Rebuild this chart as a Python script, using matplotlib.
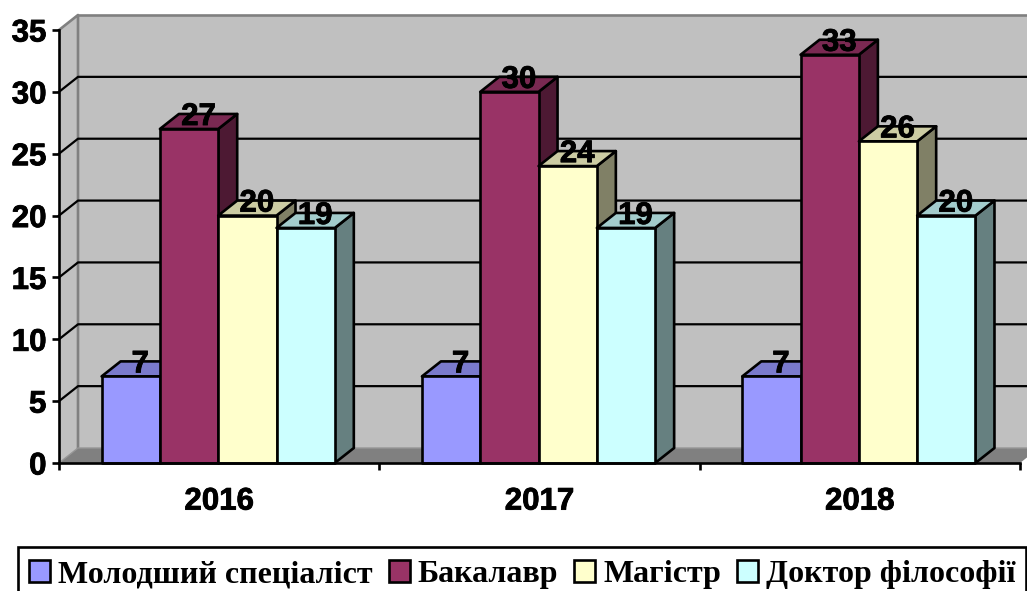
import matplotlib
matplotlib.use("Agg")
import matplotlib.pyplot as plt
import matplotlib.patheffects as pe
from matplotlib.patches import Polygon, Patch, Rectangle

years = ["2016", "2017", "2018"]
names = ["Молодший спеціаліст", "Бакалавр", "Магістр", "Доктор філософії"]
junior = [7, 7, 7]
bachelor = [27, 30, 33]
master = [20, 24, 26]
phd = [19, 19, 20]
series = [junior, bachelor, master, phd]

front_colors = ["#9999FF", "#993366", "#FFFFCC", "#CCFFFF"]
top_colors = ["#7A7ACC", "#7A2952", "#CCCCA3", "#A3CCCC"]
side_colors = ["#4D4D80", "#4D1933", "#808066", "#668080"]

W, H = 1027, 591
fig = plt.figure(figsize=(W / 100, H / 100), dpi=100)
plt.rcParams["font.family"] = ["Liberation Sans"]

# axes box = the front plane of the fake 3d chart
left, right, top, bottom = 59, 1020, 30, 463
ax = fig.add_axes([left / W, 1 - bottom / H, (right - left) / W, (bottom - top) / H])
ax.set_xlim(0, len(years))
ax.set_ylim(0, 35)
ax.patch.set_visible(False)

# depth of the box in data units
dx = 19 / ((right - left) / len(years))
dy = 15 / ((bottom - top) / 35)
lw = 1.9
grid_lw = 1.6
xmax = len(years)
ymax = 35
bold = [pe.withStroke(linewidth=0.6, foreground="black")]


def poly(pts, face, edge="none", z=1, width=lw):
    ax.add_patch(Polygon(pts, closed=True, facecolor=face, edgecolor=edge,
                         linewidth=width, zorder=z, clip_on=False, joinstyle="round"))


# walls and floor
poly([(dx, dy), (xmax + dx, dy), (xmax + dx, ymax + dy), (dx, ymax + dy)], "#C0C0C0", z=1)
poly([(0, 0), (dx, dy), (dx, ymax + dy), (0, ymax)], "#C0C0C0", z=1)
poly([(0, 0), (xmax, 0), (xmax + dx, dy), (dx, dy)], "#808080", z=1.1)

ax.plot([0, dx, dx], [ymax, ymax + dy, 0 + dy], color="#808080", lw=lw, zorder=1.3, clip_on=False)
ax.plot([dx, xmax + dx], [ymax + dy, ymax + dy], color="#808080", lw=lw, zorder=1.3, clip_on=False)
ax.plot([0, dx, xmax + dx], [0, dy, dy], color="#969696", lw=1.0, zorder=1.3, clip_on=False)

# grid lines run over the side wall and the back wall
for v in range(5, 35, 5):
    ax.plot([0, dx, xmax + dx], [v, v + dy, v + dy], color="black", lw=grid_lw, zorder=1.4, clip_on=False)

# bars
bar_w = 0.182
gap = (1 - bar_w * len(series)) / 2 - 0.003
for i in range(len(years)):
    for j, vals in enumerate(series):
        x0 = i + gap + j * bar_w
        x1 = x0 + bar_w
        v = vals[i]
        poly([(x1, 0), (x1 + dx, dy), (x1 + dx, v + dy), (x1, v)], side_colors[j], "black", z=2)
        poly([(x0, v), (x1, v), (x1 + dx, v + dy), (x0 + dx, v + dy)], top_colors[j], "black", z=2)
        poly([(x0, 0), (x1, 0), (x1, v), (x0, v)], front_colors[j], "black", z=2)

# labels go on top of everything
for i in range(len(years)):
    for j, vals in enumerate(series):
        xc = i + gap + (j + 0.5) * bar_w + dx / 2
        ax.text(xc, vals[i] + 0.32, str(vals[i]), ha="center", va="baseline",
                fontsize=22.5, fontweight="bold", color="black", zorder=5, clip_on=False,
                path_effects=bold)

for s in ["top", "right"]:
    ax.spines[s].set_visible(False)
for s in ["left", "bottom"]:
    ax.spines[s].set_linewidth(lw)
    ax.spines[s].set_zorder(3)

ax.set_yticks(range(0, 36, 5))
ax.tick_params(axis="y", length=5, width=lw, pad=4, labelsize=22.5)
ax.set_xticks(range(len(years) + 1))
ax.set_xticklabels([])
ax.tick_params(axis="x", which="major", length=5, width=lw)
ax.set_xticks([i + 0.5 for i in range(len(years))], minor=True)
ax.set_xticklabels(years, minor=True)
ax.tick_params(axis="x", which="minor", length=0, pad=17, labelsize=22.5)
for t in ax.get_yticklabels() + ax.get_xticklabels(minor=True):
    t.set_fontweight("bold")
    t.set_path_effects(bold)

# legend frame runs off the bottom of the picture, so it is drawn apart from the legend
fig.add_artist(Rectangle((18 / W, -2 / H), 1008 / W, 46 / H, transform=fig.transFigure,
                         facecolor="white", edgecolor="black", linewidth=lw, zorder=4))
handles = [Patch(facecolor=c, edgecolor="black", linewidth=lw) for c in front_colors]
leg = fig.legend(handles, names, ncol=4, loc="lower left",
                 bbox_to_anchor=(29 / W, 2 / H), bbox_transform=fig.transFigure,
                 borderaxespad=0, frameon=False,
                 prop={"family": "Liberation Serif", "weight": "bold", "size": 23},
                 handlelength=0.66, handleheight=0.66, handletextpad=0.25,
                 columnspacing=0.5, borderpad=0)
leg.set_zorder(5)

fig.savefig("out.png", dpi=100)
